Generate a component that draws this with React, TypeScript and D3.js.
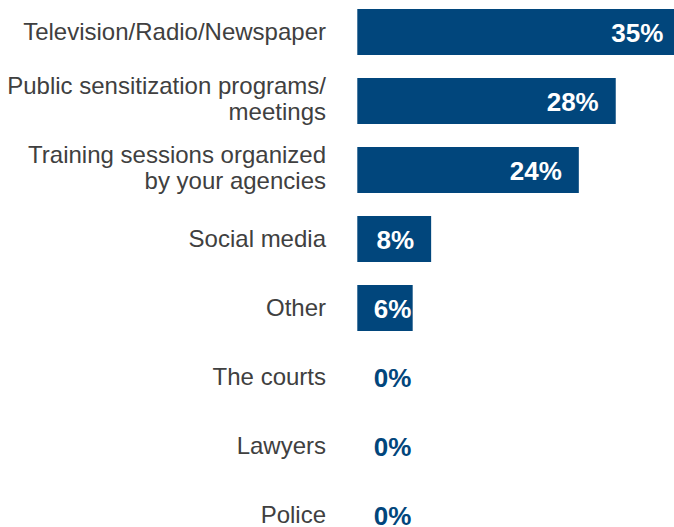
import React from "react";
import * as d3 from "d3";

const categories: string[][] = [
  ["Television/Radio/Newspaper"],
  ["Public sensitization programs/", "meetings"],
  ["Training sessions organized", "by your agencies"],
  ["Social media"],
  ["Other"],
  ["The courts"],
  ["Lawyers"],
  ["Police"],
];
const values: number[] = [35, 28, 24, 8, 6, 0, 0, 0];
const valueLabels: string[] = ["35%", "28%", "24%", "8%", "6%", "0%", "0%", "0%"];

const W = 674;
const H = 527;
const BAR = "#01467C";
const TEXT = "#404040";

export default function App() {
  const idx = categories.map((_, i) => String(i));
  const y = d3
    .scaleBand<string>()
    .domain(idx)
    .range([-2.5, -2.5 + 8 * 69])
    .paddingInner(1 / 3)
    .paddingOuter(1 / 6);
  const x = d3.scaleLinear().domain([0, 35]).range([357.3, 357.3 + 35 * 9.23]);
  const labelMin = x(0) + 54;

  return (
    <svg
      width={W}
      height={H}
      style={{ position: "absolute", left: 0, top: 0, overflow: "hidden", background: "#fff" }}
      fontFamily="'Liberation Sans', Arial, sans-serif"
    >
      {categories.map((lines, i) => {
        const y0 = y(String(i))!;
        const bw = y.bandwidth();
        const cy = y0 + bw / 2;
        const v = values[i];
        const xEnd = x(v);
        const lx = Math.max(xEnd - 17, labelMin);
        return (
          <g key={i}>
            {v > 0 && (
              <rect x={x(0)} y={y0} width={xEnd - x(0)} height={bw} fill={BAR} />
            )}
            {lines.map((ln, j) => (
              <text
                key={j}
                x={326}
                y={lines.length === 1 ? cy + 8 : cy - 7 + j * 26}
                textAnchor="end"
                fontSize={24}
                fill={TEXT}
              >
                {ln}
              </text>
            ))}
            <text
              x={lx}
              y={cy + 10}
              textAnchor="end"
              fontSize={26}
              fontWeight="bold"
              fill={v > 0 ? "#ffffff" : BAR}
            >
              {valueLabels[i]}
            </text>
          </g>
        );
      })}
    </svg>
  );
}
